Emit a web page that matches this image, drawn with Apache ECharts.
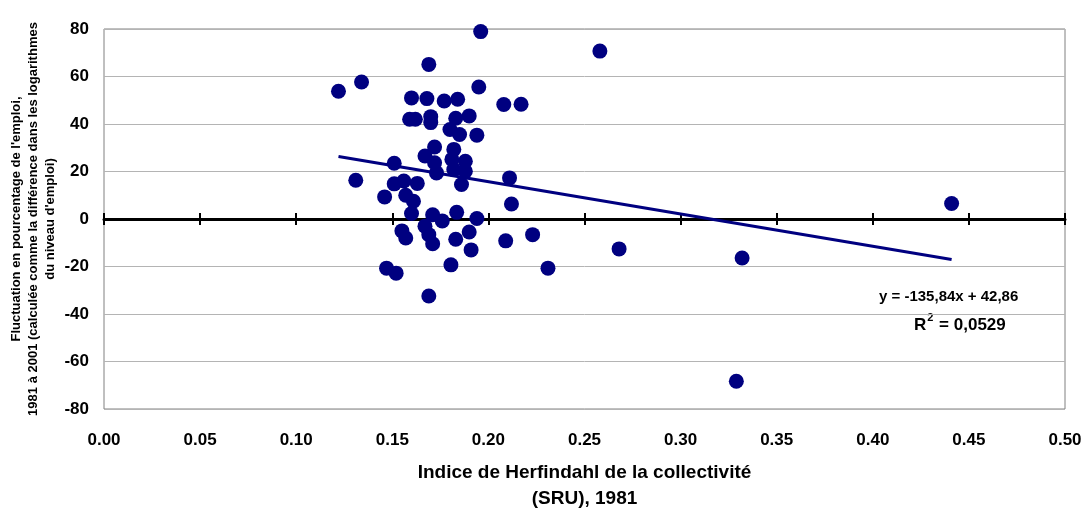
<!DOCTYPE html>
<html>
<head>
<meta charset="utf-8">
<script src="https://cdn.jsdelivr.net/npm/echarts@6/dist/echarts.min.js"></script>
<style>
  html, body { margin: 0; padding: 0; background: #fff; }
  #main { width: 1089px; height: 519px; }
</style>
</head>
<body>
<div id="main"></div>
<script>
// indice de Herfindahl (x) et fluctuation de l'emploi en % (y)
var herfindahl = [0.122, 0.134, 0.131, 0.146, 0.151, 0.151, 0.156, 0.163, 0.157, 0.161,
    0.160, 0.155, 0.157, 0.147, 0.152, 0.169, 0.159, 0.162, 0.160, 0.168,
    0.169, 0.177, 0.184, 0.196, 0.195, 0.208, 0.217, 0.170, 0.170, 0.183,
    0.190, 0.180, 0.185, 0.194, 0.172, 0.167, 0.182, 0.181, 0.188, 0.172,
    0.173, 0.182, 0.188, 0.186, 0.171, 0.1835, 0.176, 0.194, 0.167, 0.169,
    0.171, 0.183, 0.190, 0.191, 0.1805, 0.211, 0.212, 0.209, 0.223, 0.231,
    0.268, 0.258, 0.441, 0.332, 0.329];
var fluctuation = [53.8, 57.7, 16.3, 9.3, 23.5, 14.8, 16.0, 15.0, 10.0, 7.5,
    2.3, -5.0, -8.0, -20.7, -22.8, -32.4, 42.0, 42.0, 51.0, 50.7,
    65.1, 49.7, 50.4, 78.9, 55.6, 48.2, 48.3, 43.1, 40.6, 42.4,
    43.4, 37.7, 35.6, 35.3, 30.3, 26.5, 29.3, 25.1, 24.3, 23.7,
    19.4, 20.8, 20.1, 14.5, 1.8, 2.8, -0.8, 0.2, -3.0, -6.6,
    -10.4, -8.5, -5.5, -13.0, -19.3, 17.3, 6.3, -9.2, -6.6, -20.7,
    -12.6, 70.7, 6.5, -16.4, -68.3];

// droite de tendance (Excel)
var trendSlope = -135.84;
var trendIntercept = 42.86;
var trendR2 = '0,0529';

var xTicks = [0, 0.5, 0.05];   // min, max, intervalle
var yTicks = [-80, 80, 20];

var myChart = echarts.init(document.getElementById('main'));

var points = herfindahl.map(function (x, i) { return [x, fluctuation[i]]; });
var xmin = Math.min.apply(null, herfindahl);
var xmax = Math.max.apply(null, herfindahl);
var trend = [xmin, xmax].map(function (x) { return [x, trendSlope * x + trendIntercept]; });

var font = 'Liberation Sans, Arial, sans-serif';
var navy = '#000080';

var option = {
    animation: false,
    backgroundColor: '#fff',
    grid: {
        left: 104, right: 24, top: 29, bottom: 110,
        outerBoundsMode: 'none',
        show: true, borderColor: '#808080', borderWidth: 1
    },
    xAxis: [{
        type: 'value', min: xTicks[0], max: xTicks[1], interval: xTicks[2],
        position: 'bottom',
        axisLine: { show: false, onZero: false },
        axisTick: { show: false },
        splitLine: { show: false },
        axisLabel: {
            margin: 23, color: '#000', fontFamily: font, fontWeight: 'bold', fontSize: 17,
            formatter: function (v) { return v.toFixed(2); }
        },
        name: 'Indice de Herfindahl de la collectivité\n(SRU), 1981',
        nameLocation: 'middle', nameGap: 51, nameMoveOverlap: false,
        nameTextStyle: { color: '#000', fontFamily: font, fontWeight: 'bold', fontSize: 19, lineHeight: 26 }
    }, {
        // axe horizontal à zéro, graduations vers le bas
        type: 'value', min: xTicks[0], max: xTicks[1], interval: xTicks[2],
        position: 'bottom',
        axisLine: { show: true, onZero: true, onZeroAxisIndex: 0, lineStyle: { color: '#000', width: 3 } },
        axisTick: { show: true, inside: false, length: 6, lineStyle: { color: '#000', width: 2 } },
        axisLabel: { show: false },
        splitLine: { show: false }
    }, {
        // graduations vers le haut
        type: 'value', min: xTicks[0], max: xTicks[1], interval: xTicks[2],
        position: 'bottom',
        axisLine: { show: false, onZero: true, onZeroAxisIndex: 1 },
        axisTick: { show: true, inside: true, length: 6, lineStyle: { color: '#000', width: 2 } },
        axisLabel: { show: false },
        splitLine: { show: false }
    }],
    yAxis: [{
        type: 'value', min: yTicks[0], max: yTicks[1], interval: yTicks[2],
        axisLine: { show: false, onZero: false },
        axisTick: { show: false },
        splitLine: { show: true, lineStyle: { color: '#b4b4b4', width: 1 } },
        axisLabel: { margin: 15, color: '#000', fontFamily: font, fontWeight: 'bold', fontSize: 17 },
        name: "Fluctuation en pourcentage de l'emploi,\n1981 à 2001 (calculée comme la différence dans les logarithmes\ndu niveau d'emploi)",
        nameLocation: 'middle', nameGap: 45, nameMoveOverlap: false,
        nameTextStyle: { color: '#000', fontFamily: font, fontWeight: 'bold', fontSize: 13, lineHeight: 17 }
    }, {
        type: 'value', min: yTicks[0], max: yTicks[1], interval: yTicks[2],
        show: false,
        axisLine: { onZero: false },
        splitLine: { show: false }
    }],
    series: [{
        type: 'line',
        data: trend,
        symbol: 'none',
        lineStyle: { color: navy, width: 3 },
        z: 3
    }, {
        type: 'scatter',
        data: points,
        symbol: 'circle',
        symbolSize: 15,
        itemStyle: { color: navy, opacity: 1 },
        z: 4
    }],
    graphic: [{
        type: 'text', left: 879, top: 289,
        style: {
            text: 'y = ' + trendSlope.toFixed(2).replace('.', ',') + 'x + ' + trendIntercept.toFixed(2).replace('.', ','),
            fill: '#000', font: 'bold 15px ' + font
        }
    }, {
        type: 'text', left: 914, top: 312,
        style: {
            text: '{b|R}{s|2}{b| = ' + trendR2 + '}',
            rich: {
                b: { fill: '#000', fontFamily: font, fontWeight: 'bold', fontSize: 17, verticalAlign: 'bottom', lineHeight: 22 },
                s: { fill: '#000', fontFamily: font, fontWeight: 'bold', fontSize: 11, verticalAlign: 'top', lineHeight: 22, padding: [0, 1, 8, 1] }
            }
        }
    }]
};

myChart.setOption(option);
</script>
</body>
</html>
